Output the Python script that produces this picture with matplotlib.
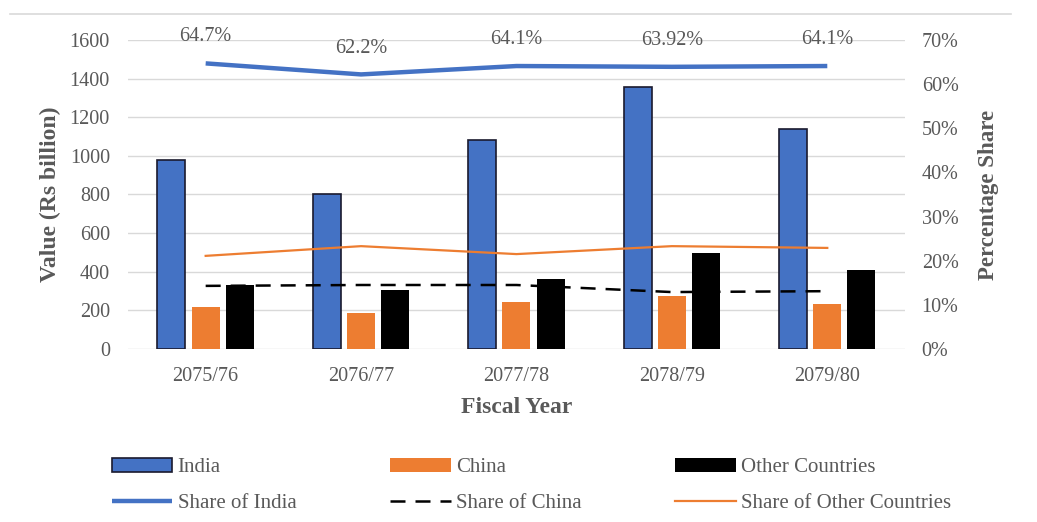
import matplotlib.pyplot as plt
import matplotlib.ticker as mticker
import numpy as np

# data
years = ["2075/76", "2076/77", "2077/78", "2078/79", "2079/80"]
india = [980, 805, 1080, 1357, 1140]
china = [217, 187, 243, 275, 233]
other = [331, 306, 363, 497, 409]

share_india = [64.7, 62.2, 64.1, 63.92, 64.1]
share_china = [14.3, 14.5, 14.5, 12.9, 13.1]
share_other = [21.1, 23.3, 21.5, 23.3, 22.9]
india_labels = ["64.7%", "62.2%", "64.1%", "63.92%", "64.1%"]

plt.rcParams['font.family'] = ['Liberation Serif', 'DejaVu Serif']
grey = '#595959'

fig = plt.figure(figsize=(10.37, 5.22), dpi=100)
ax = fig.add_axes([0.1234, 0.3314, 0.7493, 0.592])
ax2 = ax.twinx()

x = np.arange(len(years))
w = 0.18
off = 0.22
ax.bar(x - off, india, w, color='#4472C4', edgecolor='#1a1a2e', linewidth=1.2, label='India', zorder=3)
ax.bar(x, china, w, color='#ED7D31', label='China', zorder=3)
ax.bar(x + off, other, w, color='black', label='Other Countries', zorder=3)

ax2.plot(x, share_india, color='#4472C4', lw=3.2, label='Share of India', solid_capstyle='butt')
ax2.plot(x, share_china, color='black', lw=1.8, dashes=(6, 4), label='Share of China')
ax2.plot(x, share_other, color='#ED7D31', lw=1.6, label='Share of Other Countries')
for xi, v, t in zip(x, share_india, india_labels):
    ax2.annotate(t, (xi, v), xytext=(0, 19), textcoords='offset points',
                 ha='center', va='center', fontsize=14.5, color=grey)

ax.set_xlim(-0.5, len(years) - 0.5)
ax.set_ylim(0, 1600)
ax.set_yticks(range(0, 1601, 200))
ax2.set_ylim(0, 70)
ax2.set_yticks(range(0, 71, 10))
ax2.yaxis.set_major_formatter(mticker.FuncFormatter(lambda v, p: f"{v:.0f}%"))
ax.set_xticks(x)
ax.set_xticklabels(years)

ax.grid(axis='y', color='#d9d9d9', lw=1, zorder=0)
ax.set_axisbelow(True)
for a in (ax, ax2):
    for s in a.spines.values():
        s.set_visible(False)
    a.tick_params(length=0, labelsize=14.5, labelcolor=grey)
ax.tick_params(axis='y', pad=13)
ax.tick_params(axis='x', pad=13)
ax2.tick_params(axis='y', pad=12)

ax.set_xlabel("Fiscal Year", fontsize=17, fontweight='bold', color=grey, labelpad=8)
ax.set_ylabel("Value (Rs billion)", fontsize=17, fontweight='bold', color=grey, labelpad=6)
ax2.set_ylabel("Percentage Share", fontsize=16.5, fontweight='bold', color=grey, labelpad=14)

# top border line of the chart frame
fig.add_artist(plt.Line2D([0.01, 0.975], [0.973, 0.973], color='#d9d9d9', lw=1.2))

h1, l1 = ax.get_legend_handles_labels()
h2, l2 = ax2.get_legend_handles_labels()
handles = [h1[0], h2[0], h1[1], h2[1], h1[2], h2[2]]
labels = [l1[0], l2[0], l1[1], l2[1], l1[2], l2[2]]
fig.legend(handles, labels, ncol=3, loc='upper left', bbox_to_anchor=(0.108, 0.122),
           frameon=False, fontsize=15, handlelength=2.9, handleheight=0.6,
           handletextpad=0.25, columnspacing=4.5, labelspacing=0.82, labelcolor=grey,
           borderaxespad=0, borderpad=0)

fig.savefig("out.png", dpi=100)
